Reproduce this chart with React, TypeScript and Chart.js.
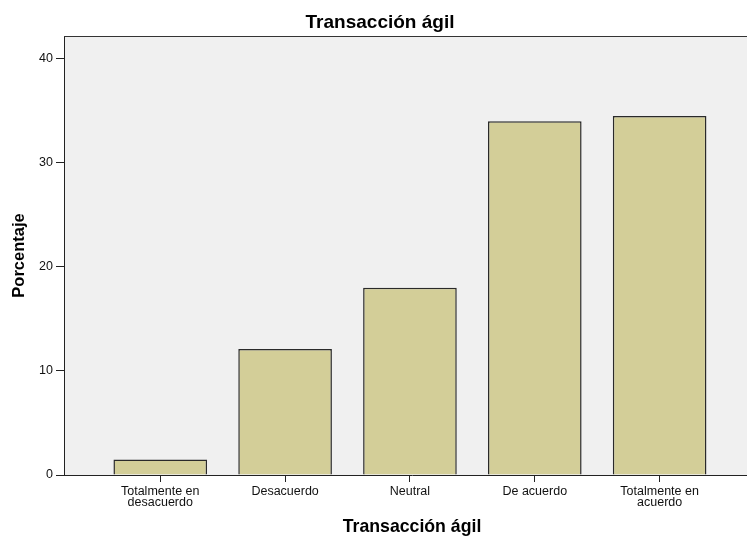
import React, { useEffect, useRef } from "react";
import { Chart, registerables } from "chart.js";

Chart.register(...registerables);

const categories: string[][] = [
  ["Totalmente en", "desacuerdo"],
  ["Desacuerdo"],
  ["Neutral"],
  ["De acuerdo"],
  ["Totalmente en", "acuerdo"],
];
const percentages: number[] = [1.5, 12.1, 18.0, 34.0, 34.5];
const yTicks: number[] = [0, 10, 20, 30, 40];
const chartTitle = "Transacción ágil";
const xTitle = "Transacción ágil";
const yTitle = "Porcentaje";

const FONT = "'Liberation Sans', Arial, sans-serif";

const plotBg = {
  id: "plotBg",
  beforeDraw(chart: any) {
    const { ctx, chartArea } = chart;
    const { left, top, right, bottom } = chartArea;
    ctx.save();
    ctx.fillStyle = "#F0F0F0";
    ctx.fillRect(left, top, right - left, bottom - top);
    ctx.restore();
  },
  afterDraw(chart: any) {
    const { ctx, chartArea } = chart;
    const { left, top, right } = chartArea;
    ctx.save();
    ctx.fillStyle = "#333333";
    ctx.fillRect(left, top, right - left, 1);
    ctx.restore();
  },
};

export default function App() {
  const ref = useRef<HTMLCanvasElement | null>(null);

  useEffect(() => {
    if (!ref.current) return;
    const chart = new Chart(ref.current, {
      type: "bar",
      data: {
        datasets: [
          {
            data: percentages.map((v, i) => ({ x: i, y: v })),
            backgroundColor: "#D3CE98",
            borderColor: "#2a2a2a",
            borderWidth: 1.5,
            categoryPercentage: 1,
            barPercentage: 0.75,
          } as any,
        ],
      },
      options: {
        responsive: false,
        animation: false,
        devicePixelRatio: 1,
        layout: { padding: 0 },
        font: { family: FONT },
        plugins: {
          legend: { display: false },
          tooltip: { enabled: false },
          title: {
            display: true,
            text: chartTitle,
            color: "#000",
            font: { family: FONT, size: 19, weight: "bold", lineHeight: 1 },
            padding: { top: 13, bottom: 4 },
          },
        },
        scales: {
          x: {
            type: "linear",
            min: -0.771,
            max: 4.804,
            offset: false,
            afterBuildTicks: (s: any) => {
              s.ticks = categories.map((_, i) => ({ value: i }));
            },
            afterFit: (s: any) => {
              s.height = 61;
            },
            ticks: {
              autoSkip: false,
              maxRotation: 0,
              minRotation: 0,
              padding: 4,
              color: "#111",
              font: { family: FONT, size: 12.5, lineHeight: 0.88 },
              callback: (v: any) => categories[v] ?? "",
            },
            grid: {
              offset: false,
              drawOnChartArea: false,
              drawTicks: true,
              tickLength: 7,
              color: "#222",
            },
            border: { display: true, color: "#222", width: 1 },
            title: {
              display: true,
              text: xTitle,
              color: "#000",
              font: { family: FONT, size: 17.7, weight: "bold", lineHeight: 1 },
              padding: { top: 0, bottom: 0 },
            },
          } as any,
          y: {
            type: "linear",
            min: 0,
            max: 42.18,
            afterBuildTicks: (s: any) => {
              s.ticks = yTicks.map((v) => ({ value: v }));
            },
            afterFit: (s: any) => {
              s.width = 64;
            },
            ticks: {
              padding: 3,
              color: "#111",
              font: { family: FONT, size: 12.5 },
            },
            grid: {
              drawOnChartArea: false,
              drawTicks: true,
              tickLength: 8,
              color: "#222",
            },
            border: { display: true, color: "#222", width: 1 },
            title: {
              display: true,
              text: yTitle,
              color: "#000",
              font: { family: FONT, size: 16.5, weight: "bold", lineHeight: 1.2 },
              padding: { top: 10, bottom: 0 },
            },
          } as any,
        },
      },
      plugins: [plotBg],
    });
    return () => chart.destroy();
  }, []);

  return (
    <div
      style={{
        position: "absolute",
        left: 0,
        top: 0,
        width: 747,
        height: 536,
        overflow: "hidden",
        background: "#fff",
      }}
    >
      <canvas ref={ref} width={760} height={536} style={{ width: 760, height: 536, display: "block" }} />
    </div>
  );
}
